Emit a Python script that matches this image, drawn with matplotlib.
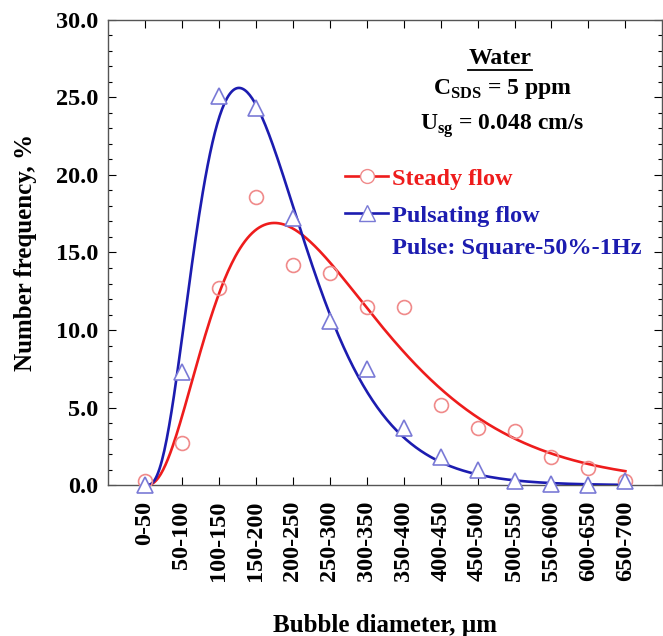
import numpy as np
import matplotlib
matplotlib.use("Agg")
import matplotlib.pyplot as plt
from matplotlib.lines import Line2D
from matplotlib.ticker import MultipleLocator, FormatStrFormatter


categories = ["0-50", "50-100", "100-150", "150-200", "200-250", "250-300",
              "300-350", "350-400", "400-450", "450-500", "500-550",
              "550-600", "600-650", "650-700"]

steady = [0.3, 2.7, 12.7, 18.6, 14.2, 13.7, 11.5, 11.5, 5.2, 3.7, 3.5, 1.8, 1.1, 0.3]
pulsating = [0.0, 7.3, 25.1, 24.3, 17.2, 10.6, 7.5, 3.7, 1.8, 1.0, 0.3, 0.1, 0.0, 0.3]

RED = "#ee1c1c"
BLUE = "#1c1cb0"
RED_MK = "#f08a8a"
BLUE_MK = "#7a7ad6"


plt.rcParams["font.family"] = ["Liberation Serif", "DejaVu Serif"]
plt.rcParams["font.weight"] = "bold"
plt.rcParams["axes.labelweight"] = "bold"
plt.rcParams["mathtext.fontset"] = "custom"
plt.rcParams["mathtext.rm"] = "Liberation Serif:bold"
plt.rcParams["mathtext.bf"] = "Liberation Serif:bold"


def fit_curve(x, y, xs):
    # least squares fit of A * x^k * exp(-(x/theta)^p), A solved linearly
    x = np.asarray(x, float)
    y = np.asarray(y, float)
    ks = np.linspace(0.5, 6.0, 56)[:, None, None, None]
    ths = np.linspace(0.4, 8.0, 77)[None, :, None, None]
    ps = np.linspace(0.4, 3.0, 27)[None, None, :, None]
    f = x ** ks * np.exp(-(x / ths) ** ps)
    a = (f * y).sum(-1) / (f * f).sum(-1)
    sse = ((a[..., None] * f - y) ** 2).sum(-1)
    i, j, m = np.unravel_index(np.argmin(sse), sse.shape)
    k, th, p, amp = ks[i, 0, 0, 0], ths[0, j, 0, 0], ps[0, 0, m, 0], a[i, j, m]
    return amp * xs ** k * np.exp(-(xs / th) ** p)


xpos = np.arange(len(categories))
xs = np.linspace(0, len(categories) - 1, 400)

fig = plt.figure(figsize=(6.63, 6.36), dpi=100)
ax = fig.add_axes([0.163, 0.237, 0.836, 0.732])

ax.plot(xs, fit_curve(xpos, steady, xs), color=RED, lw=1.9, zorder=3)
ax.plot(xs, fit_curve(xpos, pulsating, xs), color=BLUE, lw=1.9, zorder=3)
ax.plot(xpos, steady, "o", ms=10, mfc="none", mec=RED_MK, mew=1.2, zorder=4)
ax.plot(xpos, pulsating, "^", ms=12, mfc="white", mec=BLUE_MK, mew=1.2, zorder=4, clip_on=False)

ax.set_xlim(-1, 14)
ax.set_ylim(0, 30)
ax.set_xticks(xpos)
ax.set_xticklabels(categories, rotation=90, fontsize=17.5)
ax.yaxis.set_major_locator(MultipleLocator(5))
ax.yaxis.set_minor_locator(MultipleLocator(1))
ax.yaxis.set_major_formatter(FormatStrFormatter("%.1f"))
for lab in ax.get_yticklabels():
    lab.set_fontsize(17.5)
ax.tick_params(axis="both", which="both", direction="in", top=True, right=True)
ax.tick_params(axis="x", which="major", length=6, pad=11, width=0.8)
ax.tick_params(axis="y", which="major", length=6, pad=7, width=0.8)
ax.tick_params(axis="y", which="minor", length=3, width=0.8)
for s in ax.spines.values():
    s.set_color("#555555")
    s.set_linewidth(1.0)

ax.set_xlabel("Bubble diameter, \u00b5m", fontsize=18)
ax.set_ylabel("Number frequency, %", fontsize=18)
ax.xaxis.set_label_coords(0.5, -0.277)
ax.yaxis.set_label_coords(-0.128, 0.5)

# condition box
ax.text(0.708, 0.917, "Water", transform=ax.transAxes, ha="center", va="center", fontsize=17)
ax.plot([0.650, 0.764], [0.893, 0.893], transform=ax.transAxes, color="black", lw=1.3)
ax.text(0.711, 0.852, r"C$_{\mathrm{SDS}}$ = 5 ppm", transform=ax.transAxes,
        ha="center", va="center", fontsize=17)
ax.text(0.711, 0.772, r"U$_{\mathrm{sg}}$ = 0.048 cm/s", transform=ax.transAxes,
        ha="center", va="center", fontsize=17)

handles = [
    Line2D([], [], color=RED, lw=1.9, marker="o", ms=10, mfc="white", mec=RED_MK),
    Line2D([], [], color=BLUE, lw=1.9, marker="^", ms=12, mfc="white", mec=BLUE_MK),
]
leg = ax.legend(handles, ["Steady flow", "Pulsating flow"], loc="upper left",
                bbox_to_anchor=(0.427, 0.682), frameon=False, fontsize=17.5,
                handlelength=1.8, handletextpad=0.15, labelspacing=0.62, borderaxespad=0,
                borderpad=0)
for t, c in zip(leg.get_texts(), [RED, BLUE]):
    t.set_color(c)
ax.text(0.513, 0.509, "Pulse: Square-50%-1Hz", transform=ax.transAxes,
        ha="left", va="center", fontsize=17.5, color=BLUE)

fig.savefig("out.png", dpi=100)
